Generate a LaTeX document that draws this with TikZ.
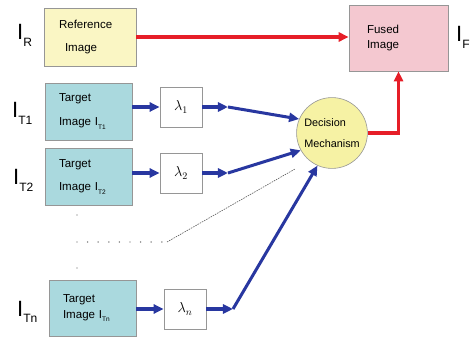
\documentclass[tikz,border=0pt]{standalone}
\usepackage{fontspec}
\setmainfont{Liberation Sans}
\usetikzlibrary{arrows.meta}
\definecolor{refyellow}{RGB}{250,246,196}
\definecolor{tgtcyan}{RGB}{170,217,222}
\definecolor{dmyellow}{RGB}{246,242,164}
\definecolor{fusedpink}{RGB}{244,200,208}
\definecolor{boxgrey}{RGB}{150,150,150}
\definecolor{dotgrey}{RGB}{90,90,90}
\definecolor{arrblue}{RGB}{40,55,160}
\definecolor{arrred}{RGB}{230,30,40}
\newcommand\imgsub[1]{\raisebox{-0.5ex}{\fontsize{6.5}{7}\selectfont#1}}
\newcommand\ilab[1]{I\raisebox{-6pt}{\fontsize{12}{13}\selectfont#1}}
\begin{document}
\begin{tikzpicture}[
  imgbox/.style={draw=boxgrey,line width=0.6pt,inner ysep=0pt,align=left},
  tgtbox/.style={imgbox,fill=tgtcyan,inner xsep=0.49cm,text width=2.065cm,minimum height=2.0cm,font=\fontsize{11.5}{24}\selectfont},
  lambox/.style={draw=boxgrey,fill=white,line width=0.6pt,minimum width=1.47cm,minimum height=1.40cm,inner sep=0pt,font=\fontsize{14}{15}\selectfont},
  bluearr/.style={draw=arrblue,line width=3pt,-{Triangle[length=10pt,width=9pt]}},
  redarr/.style={draw=arrred,line width=3pt,-{Triangle[length=10pt,width=9pt]}},
  biglab/.style={anchor=base west,inner sep=0pt,font=\fontsize{22}{24}\selectfont}]
\useasboundingbox (0,0) rectangle (16.45,11.83);
% --- boxes ---
\node[imgbox,fill=refyellow,inner xsep=0.525cm,text width=2.17cm,minimum height=2.03cm,font=\fontsize{11.5}{23}\selectfont] (ref) at (3.150,10.535) {Reference\\\hspace*{6pt}Image};
\node[tgtbox] (t1) at (3.098,7.928) {Target\\Image I\imgsub{T1}};
\node[tgtbox,font=\fontsize{11.5}{23}\selectfont] (t2) at (3.098,5.635) {Target\\Image I\imgsub{T2}};
\node[tgtbox,minimum height=1.96cm,font=\fontsize{11.5}{16}\selectfont] (tn) at (3.238,1.050) {Target\\Image I\imgsub{Tn}};
\node[lambox] (l1) at (6.335,8.085) {$\lambda_1$};
\node[lambox] (l2) at (6.335,5.775) {$\lambda_2$};
\node[lambox] (ln) at (6.475,1.015) {$\lambda_n$};
\node[circle,draw=boxgrey,fill=dmyellow,line width=0.6pt,minimum size=2.48cm,inner sep=0pt,align=left,font=\fontsize{10.8}{21}\selectfont] (dm) at (11.620,7.175) {Decision\\Mechanism};
\node[imgbox,fill=fusedpink,inner xsep=0.63cm,text width=2.205cm,minimum height=2.31cm,font=\fontsize{11.5}{15}\selectfont] (fused) at (13.948,10.500) {Fused\\Image};
% --- labels ---
\node[biglab] (lr) at (0.595,10.43) {\ilab{R}};
\node[biglab] (lt1) at (0.420,7.70) {\ilab{T1}};
\node[biglab] (lt2) at (0.455,5.355) {\ilab{T2}};
\node[biglab] (ltn) at (0.595,0.77) {\ilab{Tn}};
\node[biglab] (lf) at (15.96,10.36) {\ilab{F}};
% --- red arrows ---
\draw[redarr] (ref.east) -- (ref.east -| fused.west);
\draw[redarr] (dm.east) -| (fused.south);
% --- blue arrows ---
\coordinate (m1) at (7.980,8.085);
\coordinate (m2) at (7.980,5.775);
\coordinate (mn) at (8.155,1.015);
\draw[bluearr] (t1.east |- l1.west) -- (l1.west);
\draw[bluearr] (t2.east |- l2.west) -- (l2.west);
\draw[bluearr] (tn.east |- ln.west) -- (ln.west);
\draw[bluearr] (l1.east) -- (m1);
\draw[bluearr] (l2.east) -- (m2);
\draw[bluearr] (ln.east) -- (mn);
\draw[bluearr] (m1) -- (dm.157);
\draw[bluearr] (m2) -- (dm.209);
\draw[bluearr] (mn) -- (dm.246);
% --- dots ---
\fill[dotgrey] (2.695,4.305) circle (0.7pt);
\fill[dotgrey] (2.695,2.450) circle (0.7pt);
\foreach \k in {0,...,8}
  \fill[dotgrey] (2.695+0.371*\k,3.360) circle (0.7pt);
\coordinate (dd) at (5.845,3.360);
\coordinate (de) at (10.325,5.915);
\draw[dotgrey,line width=0.6pt,dash pattern=on 1.5pt off 1pt] (dd) -- (de);
\end{tikzpicture}
\end{document}
